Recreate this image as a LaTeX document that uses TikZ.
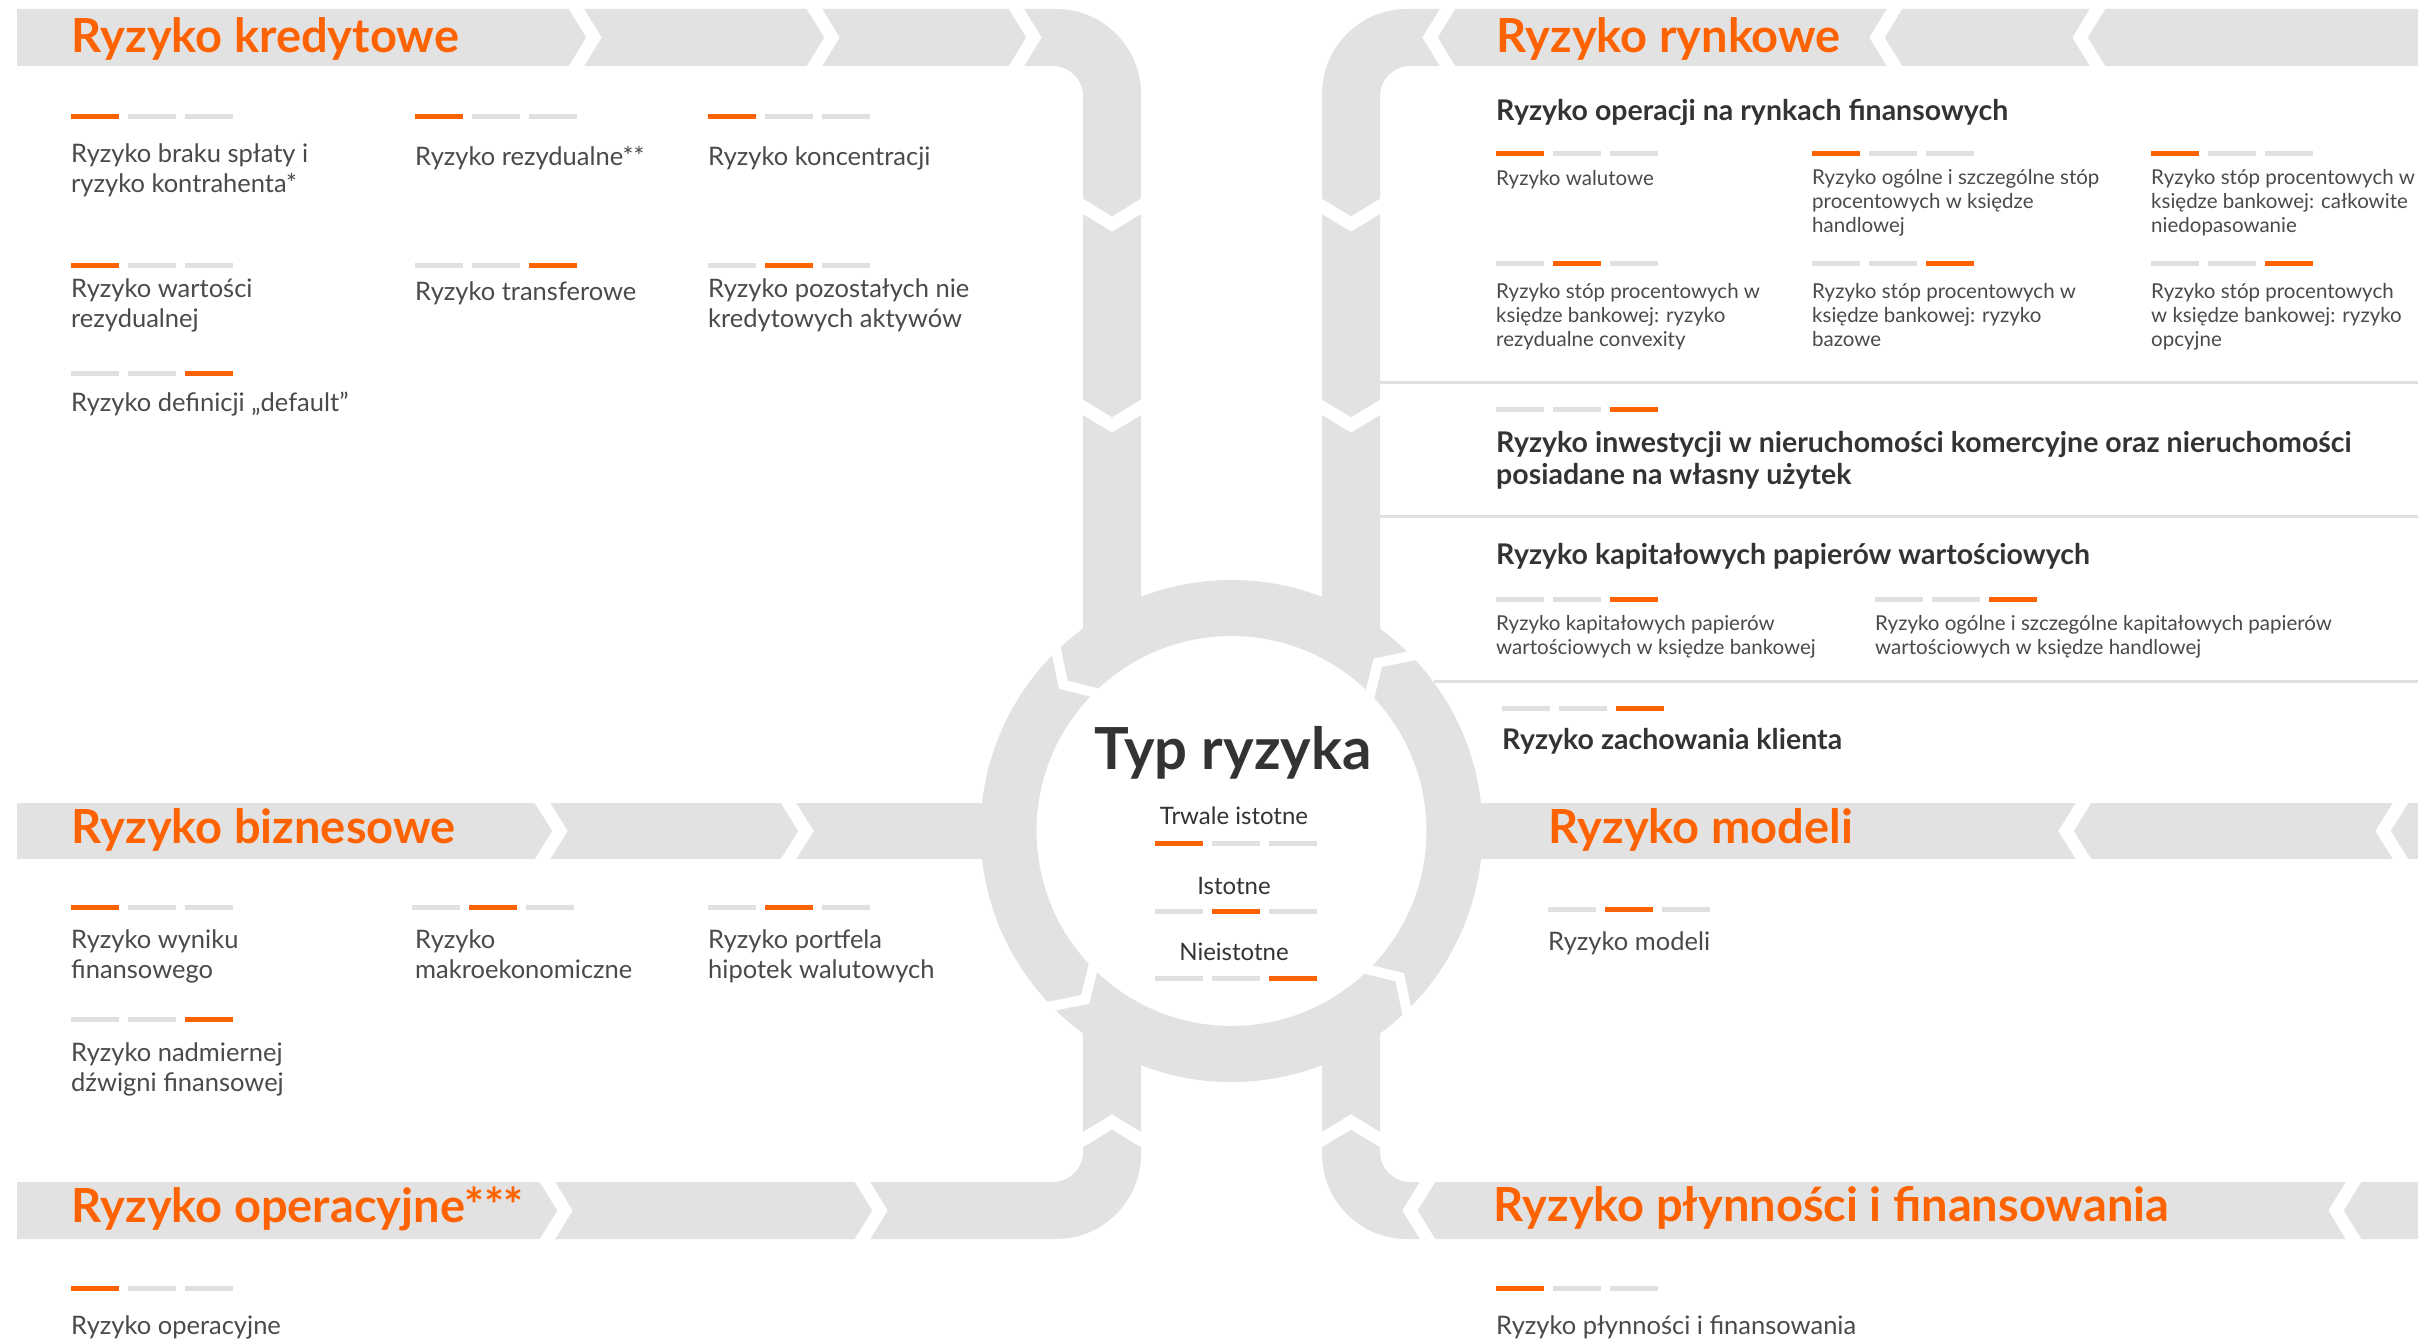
\documentclass[tikz,border=0pt]{standalone}
\usepackage{fontspec}
\setmainfont{Lato}
\usepackage{tikz}

\definecolor{ingorange}{HTML}{FF6200}
\definecolor{bandgrey}{HTML}{E2E2E2}
\definecolor{bargrey}{HTML}{E0E0E0}
\definecolor{txtgrey}{HTML}{4A4A4A}
\definecolor{txtdark}{HTML}{333333}

\tikzset{
  band/.style={fill=bandgrey},
  gap/.style={draw=white, line width=13pt, line join=miter},
  ringgap/.style={draw=white, line width=10pt, line join=miter},
  sepline/.style={draw=bargrey, line width=3pt},
  ttl/.style={anchor=base west, inner sep=0pt, text=ingorange, font=\fontsize{47}{50}\selectfont\bfseries},
  itm/.style={anchor=north west, inner sep=0pt, align=left, text=txtgrey, font=\fontsize{25.5}{30}\selectfont, execute at begin node=\strut},
  sml/.style={anchor=north west, inner sep=0pt, align=left, text=txtgrey, font=\fontsize{20.5}{24}\selectfont, execute at begin node=\strut},
  hd/.style={anchor=north west, inner sep=0pt, align=left, text=txtdark, font=\fontsize{28.5}{32}\selectfont\bfseries, execute at begin node=\strut},
  mid/.style={anchor=base, inner sep=0pt, text=txtdark, font=\fontsize{24}{28}\selectfont},
}

% three bars: x, y, level
\newcommand\lvl[3]{%
  \foreach \k in {1,2,3}{%
    \ifnum\k=#3 \def\bc{ingorange}\else\def\bc{bargrey}\fi
    \draw[line width=5pt, color=\bc] ({#1+(\k-1)*57},#2) -- ++(48,0);
  }}

\begin{document}
\begin{tikzpicture}[x=1pt, y=-1pt]
\useasboundingbox (0,0) rectangle (2418,1340);
\fill[white] (0,0) rectangle (2418,1340);

% grey flow bands
\fill[band] (17,9) -- (1056,9) arc[start angle=-90, end angle=0, radius=85] -- (1141,650)
  -- (1083,650) -- (1083,96) arc[start angle=0, end angle=-90, radius=30] -- (17,66) -- cycle;
\fill[band] (2418,9) -- (1407,9) arc[start angle=270, end angle=180, radius=85] -- (1322,650)
  -- (1380,650) -- (1380,96) arc[start angle=180, end angle=270, radius=30] -- (2418,66) -- cycle;
\fill[band] (1083,1010) -- (1083,1152) arc[start angle=0, end angle=90, radius=30] -- (17,1182)
  -- (17,1239) -- (1056,1239) arc[start angle=90, end angle=0, radius=85] -- (1141,1010) -- cycle;
\fill[band] (1380,1010) -- (1380,1152) arc[start angle=180, end angle=90, radius=30] -- (2418,1182)
  -- (2418,1239) -- (1407,1239) arc[start angle=90, end angle=180, radius=85] -- (1322,1010) -- cycle;
\fill[band] (17,803) rectangle (1000,859);
\fill[band] (1463,803) rectangle (2418,859);
\fill[band, even odd rule] (1231.5,831) circle[radius=251] circle[radius=195];

% chevron gaps
\foreach \c in {574,812,1014}{\draw[gap] (\c,5) -- (\c+20,37.5) -- (\c,70);}
\foreach \c in {540,786}{\draw[gap] (\c,799) -- (\c+20,831) -- (\c,863);}
\foreach \c in {545,860}{\draw[gap] (\c,1178) -- (\c+20,1210.5) -- (\c,1243);}
\foreach \c in {1450,1897,2100}{\draw[gap] (\c,5) -- (\c-20,37.5) -- (\c,70);}
\foreach \c in {2086,2403}{\draw[gap] (\c,799) -- (\c-20,831) -- (\c,863);}
\foreach \c in {1430,2356}{\draw[gap] (\c,1178) -- (\c-20,1210.5) -- (\c,1243);}
\foreach \c in {204,405}{
  \draw[gap] (1079,\c) -- (1112,\c+20) -- (1145,\c);
  \draw[gap] (1318,\c) -- (1351,\c+20) -- (1384,\c);
}
\draw[gap] (1079,1142) -- (1112,1122) -- (1145,1142);
\draw[gap] (1318,1142) -- (1351,1122) -- (1384,1142);
\begin{scope}[shift={(1231.5,831)}]
  \foreach \a in {46,136,226,316}{\draw[ringgap] (\a+1:260) -- (\a-5:223) -- (\a+1:186);}
\end{scope}

% separators
\draw[sepline] (1380,382) -- (2418,382);
\draw[sepline] (1380,516) -- (2418,516);
\draw[sepline] (1434,681) -- (2418,681);

% centre
\node[anchor=base, inner sep=0pt, text=txtdark, font=\fontsize{58}{62}\selectfont\bfseries] (typ) at (1233,769) {Typ ryzyka};
\node[mid] (lv1) at (1234,824) {Trwale istotne};
\lvl{1155}{843}{1}
\node[mid] (lv2) at (1234,894) {Istotne};
\lvl{1155}{911}{2}
\node[mid] (lv3) at (1234,960) {Nieistotne};
\lvl{1155}{978}{3}

% kredytowe
\node[ttl] (kred) at (71,53) {Ryzyko kredytowe};
\lvl{71}{117}{1}  \node[itm] (kred1) at (71,144) {Ryzyko braku spłaty i\\ryzyko kontrahenta*};
\lvl{415}{117}{1} \node[itm] (kred2) at (415,144) {Ryzyko rezydualne**};
\lvl{708}{117}{1} \node[itm] (kred3) at (708,144) {Ryzyko koncentracji};
\lvl{71}{266}{1}  \node[itm] (kred4) at (71,279) {Ryzyko wartości\\rezydualnej};
\lvl{415}{266}{3} \node[itm] (kred5) at (415,279) {Ryzyko transferowe};
\lvl{708}{266}{2} \node[itm] (kred6) at (708,279) {Ryzyko pozostałych nie\\kredytowych aktywów};
\lvl{71}{373}{3}  \node[itm] (kred7) at (71,390) {Ryzyko definicji „default”};

% biznesowe
\node[ttl] (bizn) at (71,843) {Ryzyko biznesowe};
\lvl{71}{907}{1}  \node[itm] (bizn1) at (71,930) {Ryzyko wyniku\\finansowego};
\lvl{412}{907}{2} \node[itm] (bizn2) at (415,930) {Ryzyko\\makroekonomiczne};
\lvl{708}{907}{2} \node[itm] (bizn3) at (708,930) {Ryzyko portfela\\hipotek walutowych};
\lvl{71}{1019}{3} \node[itm] (bizn4) at (71,1043) {Ryzyko nadmiernej\\dźwigni finansowej};

% operacyjne
\node[ttl] (oper) at (71,1222) {Ryzyko operacyjne***};
\lvl{71}{1288}{1} \node[itm] (oper1) at (71,1313) {Ryzyko operacyjne};

% rynkowe
\node[ttl] (rynk) at (1496,53) {Ryzyko rynkowe};
\node[hd] (rynkA) at (1496,98) {Ryzyko operacji na rynkach finansowych};
\lvl{1496}{154}{1} \node[sml] (rynk1) at (1496,169) {Ryzyko walutowe};
\lvl{1812}{154}{1} \node[sml] (rynk2) at (1812,169) {Ryzyko ogólne i szczególne stóp\\procentowych w księdze\\handlowej};
\lvl{2151}{154}{1} \node[sml] (rynk3) at (2151,169) {Ryzyko stóp procentowych w\\księdze bankowej: całkowite\\niedopasowanie};
\lvl{1496}{264}{2} \node[sml] (rynk4) at (1496,283) {Ryzyko stóp procentowych w\\księdze bankowej: ryzyko\\rezydualne convexity};
\lvl{1812}{264}{3} \node[sml] (rynk5) at (1812,283) {Ryzyko stóp procentowych w\\księdze bankowej: ryzyko\\bazowe};
\lvl{2151}{264}{3} \node[sml] (rynk6) at (2151,283) {Ryzyko stóp procentowych\\w księdze bankowej: ryzyko\\opcyjne};
\lvl{1496}{409}{3} \node[hd] (rynkB) at (1496,431) {Ryzyko inwestycji w nieruchomości komercyjne oraz nieruchomości\\posiadane na własny użytek};
\node[hd] (rynkC) at (1496,542) {Ryzyko kapitałowych papierów wartościowych};
\lvl{1496}{599}{3} \node[sml] (rynk7) at (1496,615) {Ryzyko kapitałowych papierów\\wartościowych w księdze bankowej};
\lvl{1875}{599}{3} \node[sml] (rynk8) at (1875,615) {Ryzyko ogólne i szczególne kapitałowych papierów\\wartościowych w księdze handlowej};
\lvl{1502}{708}{3} \node[hd] (rynkD) at (1502,727) {Ryzyko zachowania klienta};

% modeli
\node[ttl] (mode) at (1548,843) {Ryzyko modeli};
\lvl{1548}{909}{2} \node[itm] (mode1) at (1548,929) {Ryzyko modeli};

% plynnosci
\node[ttl] (plyn) at (1493,1221) {Ryzyko płynności i finansowania};
\lvl{1496}{1288}{1} \node[itm] (plyn1) at (1496,1313) {Ryzyko płynności i finansowania};

\end{tikzpicture}
\end{document}
